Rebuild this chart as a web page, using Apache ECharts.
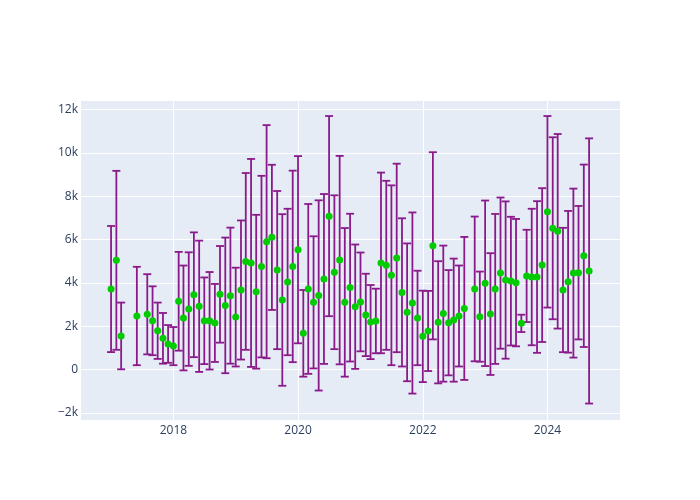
<!DOCTYPE html>
<html>
<head>
<meta charset="utf-8">
<script src="https://cdn.jsdelivr.net/npm/echarts@6/dist/echarts.min.js"></script>
<style>html,body{margin:0;padding:0;background:#fff}#c{width:700px;height:500px}</style>
</head>
<body>
<div id="c"></div>
<script>
const dates = ['2017-01-01','2017-02-01','2017-03-01','2017-06-01','2017-08-01','2017-09-01','2017-10-01','2017-11-01','2017-12-01',
'2018-01-01','2018-02-01','2018-03-01','2018-04-01','2018-05-01','2018-06-01','2018-07-01','2018-08-01','2018-09-01','2018-10-01','2018-11-01','2018-12-01',
'2019-01-01','2019-02-01','2019-03-01','2019-04-01','2019-05-01','2019-06-01','2019-07-01','2019-08-01','2019-09-01','2019-10-01','2019-11-01','2019-12-01',
'2020-01-01','2020-02-01','2020-03-01','2020-04-01','2020-05-01','2020-06-01','2020-07-01','2020-08-01','2020-09-01','2020-10-01','2020-11-01','2020-12-01',
'2021-01-01','2021-02-01','2021-03-01','2021-04-01','2021-05-01','2021-06-01','2021-07-01','2021-08-01','2021-09-01','2021-10-01','2021-11-01','2021-12-01',
'2022-01-01','2022-02-01','2022-03-01','2022-04-01','2022-05-01','2022-06-01','2022-07-01','2022-08-01','2022-09-01','2022-11-01','2022-12-01',
'2023-01-01','2023-02-01','2023-03-01','2023-04-01','2023-05-01','2023-06-01','2023-07-01','2023-08-01','2023-09-01','2023-10-01','2023-11-01','2023-12-01',
'2024-01-01','2024-02-01','2024-03-01','2024-04-01','2024-05-01','2024-06-01','2024-07-01','2024-08-01','2024-09-01'];

const values = [3715,5040,1550,2470,2550,2250,1790,1440,1180,
1080,3150,2380,2790,3450,2920,2250,2250,2150,3470,2960,3410,
2420,3670,4990,4920,3590,4750,5900,6100,4590,3210,4040,4760,
5530,1670,3720,3100,3420,4180,7080,4490,5050,3100,3780,2900,
3120,2520,2190,2240,4920,4810,4350,5150,3560,2640,3070,2380,
1530,1780,5710,2180,2580,2160,2280,2470,2820,3720,2440,
3980,2560,3720,4450,4130,4080,4010,2130,4320,4270,4270,4820,
7280,6520,6380,3670,4050,4450,4470,5250,4550];

const errors = [2910,4130,1540,2270,1850,1590,1300,1170,870,
880,2280,2420,2620,2880,3030,2000,2250,1800,2230,3130,3140,
2280,3210,4080,4800,3550,4190,5380,3350,3650,3960,3380,4420,
4320,2000,3920,3050,4390,3920,4620,3550,4810,3430,3410,2870,
2280,1900,1710,1490,4170,3900,4150,4350,3420,3180,4180,2180,
2110,1850,4320,2820,3140,2430,2840,2330,3300,3340,2080,
3820,2810,3460,3490,3630,2970,2940,400,2130,3150,3500,3550,
4420,4200,4490,2870,3270,3900,3080,4210,6120];

const yTicks = [-2000,0,2000,4000,6000,8000,10000,12000];
const xTicks = ['2018','2020','2022','2024'];

const barData = dates.map((d,i)=>[d, values[i]-errors[i], values[i]+errors[i]]);
const pointData = dates.map((d,i)=>[d, values[i]]);

const chart = echarts.init(document.getElementById('c'), null, {renderer:'canvas'});
const FONT = '"Open Sans", "DejaVu Sans", sans-serif';
chart.setOption({
  animation:false,
  backgroundColor:'#fff',
  grid:{left:80,right:80,top:100,bottom:80,show:true,backgroundColor:'#E5ECF6',borderWidth:0},
  xAxis:{
    type:'time',
    min:'2016-07-03', max:'2025-03-01',
    splitNumber:4,
    axisLine:{show:false}, axisTick:{show:false},
    splitLine:{show:true,lineStyle:{color:'#ffffff',width:1}},
    axisLabel:{color:'#2a3f5f',fontSize:12,fontFamily:FONT,margin:5,
      showMinLabel:false, showMaxLabel:false,
      formatter:function(v){const y=String(new Date(v).getFullYear());const dt=new Date(v);return (dt.getMonth()===0&&dt.getDate()===1&&xTicks.indexOf(y)>=0)?y:'';}}
  },
  yAxis:{
    type:'value', min:-2330, max:12440, splitNumber:7,
    axisLine:{show:false}, axisTick:{show:false},
    splitLine:{show:true,lineStyle:{color:'#ffffff',width:1}},
    axisLabel:{color:'#2a3f5f',fontSize:12,fontFamily:FONT,margin:2,
      showMinLabel:false, showMaxLabel:false,
      formatter:function(v){ if(yTicks.indexOf(v)<0) return ''; if(v===0) return '0'; const k=Math.abs(v)/1000; return (v<0?'\u2212':'')+k+'k';}}
  },
  series:[
    {
      type:'custom',
      data:barData,
      encode:{x:0,y:[1,2]},
      z:2,
      renderItem:function(params, api){
        const x = api.value(0);
        const lo = api.coord([x, api.value(1)]);
        const hi = api.coord([x, api.value(2)]);
        const w = 4;
        const st = {stroke:'#8a1a8a', lineWidth:1.8, fill:null};
        return {type:'group', children:[
          {type:'line', shape:{x1:lo[0],y1:lo[1],x2:hi[0],y2:hi[1]}, style:st},
          {type:'line', shape:{x1:hi[0]-w,y1:hi[1],x2:hi[0]+w,y2:hi[1]}, style:st},
          {type:'line', shape:{x1:lo[0]-w,y1:lo[1],x2:lo[0]+w,y2:lo[1]}, style:st}
        ]};
      }
    },
    {
      type:'scatter',
      data:pointData,
      symbol:'circle',
      symbolSize:7,
      itemStyle:{color:'#00cc00',opacity:1},
      z:3
    }
  ]
});
</script>
</body>
</html>
